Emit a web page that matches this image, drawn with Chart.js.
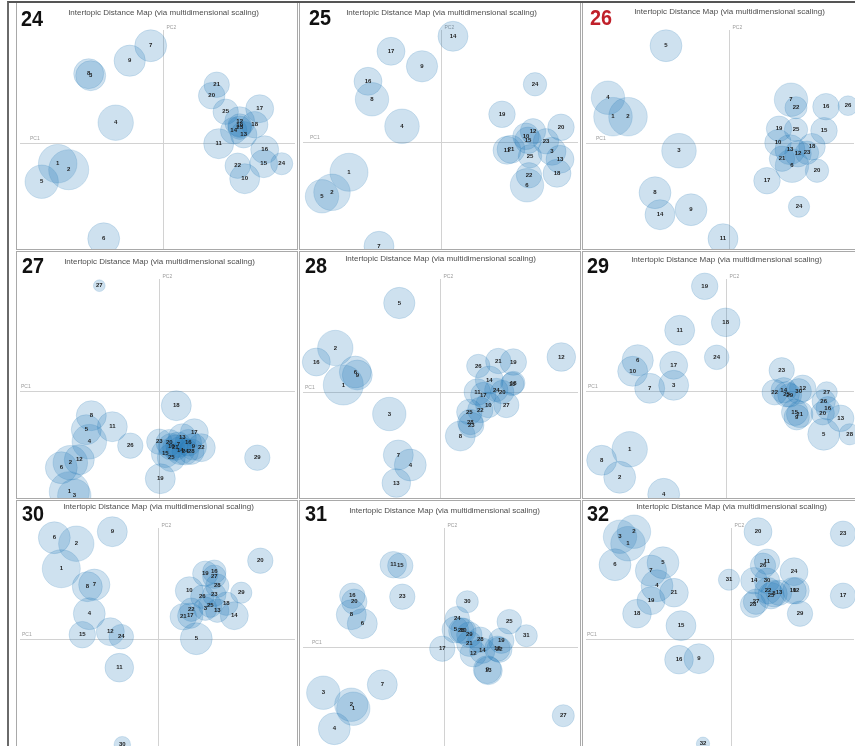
<!DOCTYPE html>
<html>
<head>
<meta charset="utf-8">
<title>Intertopic Distance Maps, K = 24 to 32</title>
<script src="https://cdn.jsdelivr.net/npm/chart.js@4/dist/chart.umd.min.js"></script>
<style>
  html, body { margin: 0; padding: 0; background: #fff; }
  body { width: 855px; height: 746px; position: relative; overflow: hidden; }
  #frame { position: absolute; left: 7px; top: 1px; width: 900px; height: 800px;
           border-left: 2px solid #6a6a6a; border-top: 2px solid #555; z-index: 2; pointer-events: none; }
  .panel { position: absolute; border: 1px solid #a9a9a9; background: #fff; }
  .panel canvas { display: block; }
</style>
</head>
<body>
<div id="frame"></div>
<div id="grid"></div>
<script>
// Number of topics K in each model run, in grid order (three per row)
const modelK = [24, 25, 26, 27, 28, 29, 30, 31, 32];
// Run highlighted in red
const selectedK = 26;

// Topic coordinates on the first two principal components (topic n at index n-1)
// and each topic's share of tokens in percent.
const pc1_24 = [-0.105,-0.094,-0.072,-0.047,-0.121,-0.059,-0.012,-0.074,-0.033,0.082,0.056,0.077,0.081,0.071,0.101,0.102,0.097,0.092,0.077,0.049,0.054,0.075,0.077,0.119,0.063];
const pc2_24 = [-0.021,-0.027,0.067,0.020,-0.039,-0.096,0.097,0.069,0.082,-0.036,-0.001,0.021,0.008,0.012,-0.021,-0.007,0.034,0.018,0.017,0.047,0.058,-0.023,0.015,-0.021,0.031];
const share_24 = [7.6,8.2,4.6,6.4,5.7,5.2,5.2,4.6,5.0,4.6,4.6,4.6,3.6,3.6,4.0,4.0,4.0,3.6,2.9,3.6,3.3,3.3,2.8,2.5,3.3];

const pc1_25 = [-0.092,-0.109,0.111,-0.039,-0.119,0.086,-0.062,-0.069,-0.019,0.085,0.066,0.092,0.119,0.012,0.087,-0.073,-0.050,0.116,0.061,0.120,0.070,0.088,0.105,0.094,0.089];
const pc2_25 = [-0.030,-0.050,-0.009,0.016,-0.054,-0.043,-0.104,0.043,0.076,0.006,-0.008,0.011,-0.017,0.106,0.002,0.061,0.091,-0.031,0.028,0.015,-0.007,-0.033,0.001,0.058,-0.014];
const share_25 = [7.4,6.8,4.0,6.1,5.7,5.7,4.6,5.7,5.0,3.6,4.0,3.3,4.0,4.6,3.6,4.0,4.0,4.0,3.6,3.6,4.0,3.3,3.3,2.8,2.8];

const pc1_26 = [-0.116,-0.101,-0.050,-0.121,-0.063,0.063,0.062,-0.074,-0.038,0.049,-0.006,0.069,0.061,-0.069,0.095,0.097,0.038,0.083,0.050,0.088,0.053,0.067,0.078,0.070,0.067,0.119];
const pc2_26 = [0.026,0.026,-0.008,0.045,0.097,-0.023,0.043,-0.050,-0.067,0.000,-0.096,-0.011,-0.007,-0.072,0.012,0.036,-0.038,-0.004,0.014,-0.028,-0.016,0.035,-0.010,-0.064,0.013,0.037];
const share_26 = [7.6,7.6,6.1,5.7,5.2,5.7,5.7,5.2,5.2,3.6,4.6,3.6,4.6,4.6,3.6,3.6,3.6,3.6,3.3,2.8,3.3,2.5,2.8,2.3,2.8,2.0];

const pc1_27 = [-0.090,-0.089,-0.085,-0.070,-0.073,-0.098,0.019,-0.068,0.034,0.012,-0.047,-0.080,0.023,0.021,0.006,0.029,0.035,0.017,0.001,0.010,0.016,0.042,0.000,0.026,0.012,-0.029,-0.060,0.032,0.098];
const pc2_27 = [-0.101,-0.072,-0.105,-0.051,-0.039,-0.077,-0.054,-0.025,-0.056,-0.056,-0.036,-0.069,-0.047,-0.060,-0.063,-0.052,-0.042,-0.015,-0.088,-0.052,-0.057,-0.057,-0.051,-0.061,-0.067,-0.055,0.105,-0.061,-0.067];
const share_27 = [8.2,6.1,5.7,6.1,4.6,5.2,3.3,4.6,3.6,3.6,4.6,4.6,4.0,4.0,4.0,3.6,4.0,4.6,4.6,3.6,3.3,4.0,3.3,3.6,4.0,3.3,0.7,3.3,3.3];

const pc1_28 = [-0.097,-0.105,-0.051,-0.030,-0.041,-0.085,-0.042,0.020,-0.083,0.048,0.037,0.121,-0.044,0.049,0.072,-0.124,0.043,0.073,0.073,0.062,0.058,0.040,0.031,0.056,0.029,0.038,0.066,0.030];
const pc2_28 = [0.007,0.044,-0.022,-0.073,0.089,0.020,-0.063,-0.044,0.017,-0.013,0.000,0.035,-0.091,0.012,0.008,0.030,-0.003,0.009,0.030,0.000,0.031,-0.018,-0.033,0.002,-0.020,0.026,-0.013,-0.030];
const share_28 = [8.2,6.4,5.7,5.2,5.0,5.2,4.6,4.6,4.6,3.3,3.6,4.2,4.2,4.0,2.8,4.0,3.3,2.8,3.6,2.8,3.3,3.3,3.3,2.8,3.3,2.8,3.3,3.3];

const pc1_29 = [-0.096,-0.106,-0.052,-0.062,0.098,-0.088,-0.076,-0.124,0.071,-0.093,-0.046,0.077,0.115,0.058,0.069,0.102,-0.052,0.000,-0.021,0.097,0.074,0.049,0.056,-0.009,0.061,0.098,0.101,0.124,0.064,0.073];
const pc2_29 = [-0.058,-0.086,0.006,-0.103,-0.043,0.031,0.003,-0.069,-0.026,0.020,0.061,0.003,-0.027,0.001,-0.021,-0.017,0.026,0.069,0.105,-0.022,-0.023,-0.001,0.021,0.034,-0.003,-0.010,-0.001,-0.043,-0.004,0.000];
const share_29 = [6.4,5.2,4.6,5.2,5.2,5.0,4.6,4.6,3.3,4.6,4.6,3.6,3.6,3.3,3.6,2.8,4.0,4.2,3.6,2.8,3.6,3.3,3.3,3.1,3.3,2.8,2.3,2.3,2.9,3.3];

const pc1_30 = [-0.097,-0.082,0.047,-0.069,0.038,-0.104,-0.064,-0.071,-0.046,0.031,-0.039,-0.048,0.059,0.076,-0.076,0.056,0.032,0.068,0.047,0.102,0.025,0.033,0.056,-0.037,0.052,0.044,0.056,0.059,0.083,-0.036];
const pc2_30 = [0.070,0.095,0.030,0.025,0.000,0.101,0.054,0.052,0.107,0.048,-0.029,0.007,0.028,0.023,0.004,0.067,0.023,0.035,0.065,0.078,0.022,0.029,0.044,0.002,0.033,0.042,0.062,0.053,0.046,-0.106];
const share_30 = [7.4,6.4,2.8,5.2,5.2,5.2,5.0,4.6,4.6,4.0,4.2,4.0,2.8,4.0,3.6,2.8,3.3,2.8,3.3,3.3,3.6,2.8,2.8,3.1,2.8,2.8,2.8,2.8,2.3,1.4];

const pc1_31 = [-0.091,-0.093,-0.121,-0.110,0.011,-0.082,-0.062,-0.093,0.043,0.019,-0.051,0.029,0.044,0.038,-0.044,-0.092,-0.002,0.053,0.057,-0.090,0.025,0.055,-0.042,0.013,0.065,0.017,0.119,0.036,0.025,0.023,0.082];
const pc2_31 = [-0.062,-0.058,-0.046,-0.082,0.017,0.023,-0.038,0.032,-0.023,0.016,0.082,-0.007,-0.024,-0.004,0.081,0.051,-0.002,-0.002,0.006,0.045,0.003,-0.003,0.050,0.028,0.025,0.016,-0.069,0.007,0.012,0.045,0.011];
const share_31 = [5.7,5.7,5.7,5.2,3.6,4.6,4.6,4.6,4.0,3.3,3.6,3.6,4.0,3.3,3.3,3.3,3.3,3.3,3.3,3.3,3.3,3.3,3.3,3.1,3.1,3.3,2.5,3.3,3.3,2.5,2.5];

const pc1_32 = [-0.103,-0.097,-0.111,-0.074,-0.068,-0.116,-0.080,0.043,-0.032,0.062,0.036,0.065,0.048,0.023,-0.050,-0.052,0.112,-0.094,-0.080,0.027,-0.057,0.037,0.112,0.063,0.040,0.032,0.025,0.022,0.069,0.036,-0.002,-0.028];
const pc2_32 = [0.095,0.107,0.102,0.053,0.076,0.074,0.068,0.045,-0.020,0.048,0.077,0.048,0.046,0.058,0.013,-0.021,0.043,0.025,0.038,0.107,0.046,0.048,0.105,0.067,0.043,0.073,0.037,0.034,0.025,0.058,0.059,-0.105];
const share_32 = [6.1,5.7,5.7,5.2,5.2,5.2,5.0,3.6,4.6,3.6,3.3,3.6,3.3,3.6,4.6,4.2,3.3,4.2,4.0,4.0,4.2,3.6,3.3,4.0,3.6,3.3,3.3,3.3,3.3,3.3,2.3,0.9];

// Visible PC1 / PC2 window of each map, in modelK order
const pc1Limits = [[-0.1457,0.1343],[-0.141,0.139],[-0.146,0.127],[-0.1423,0.1377],[-0.1403,0.1397],[-0.1427,0.1303],[-0.1413,0.1387],[-0.1443,0.1357],[-0.148,0.125]];
const pc2Limits = [[-0.1063,0.1397],[-0.1067,0.1393],[-0.1063,0.1397],[-0.1073,0.1387],[-0.106,0.140],[-0.1067,0.1393],[-0.1093,0.1377],[-0.1013,0.1457],[-0.1093,0.1377]];

const mapTitle = 'Intertopic Distance Map (via multidimensional scaling)';

const topicData = {
  24: [pc1_24, pc2_24, share_24], 25: [pc1_25, pc2_25, share_25], 26: [pc1_26, pc2_26, share_26],
  27: [pc1_27, pc2_27, share_27], 28: [pc1_28, pc2_28, share_28], 29: [pc1_29, pc2_29, share_29],
  30: [pc1_30, pc2_30, share_30], 31: [pc1_31, pc2_31, share_31], 32: [pc1_32, pc2_32, share_32]
};

// Grid geometry (outer box of each panel, border included)
const COL_LEFT = [16, 299, 582], COL_W = [282, 282, 275];
const ROW_TOP = [2, 251, 500], ROW_H = [248, 248, 249];
// Text placement inside each panel
const NUM_POS = [[4,23],[9,22],[7,22],[5,21],[5,21],[4,21],[5,20],[5,20],[4,20]];
const TITLE_Y = [12,12,11,12,9,10,8,12,8];
const PC1_INSET = [13,10,13,4,5,5,5,12,4];

// Bubble radius from token share: area proportional to share
const radiusOf = share => 7 * Math.sqrt(share);

const panelDecor = {
  id: 'panelDecor',
  beforeDatasetsDraw(chart, args, o) {
    const { ctx, chartArea: a, scales: { x, y } } = chart;
    const x0 = Math.round(x.getPixelForValue(0)) + 0.5;
    const y0 = Math.round(y.getPixelForValue(0)) + 0.5;
    ctx.save();
    ctx.strokeStyle = '#d2d2d2';
    ctx.lineWidth = 1;
    ctx.beginPath();
    ctx.moveTo(x0, a.top + 27); ctx.lineTo(x0, a.bottom);
    ctx.moveTo(a.left + 3, y0); ctx.lineTo(a.right - 2, y0);
    ctx.stroke();
    ctx.fillStyle = '#9c9c9c';
    ctx.font = '5px "Liberation Sans", Arial, sans-serif';
    ctx.textAlign = 'left';
    ctx.textBaseline = 'alphabetic';
    ctx.fillText('PC2', x0 + 3, a.top + 26);
    ctx.fillText('PC1', a.left + o.pc1Inset, y0 - 4);
    ctx.fillStyle = '#4d4d4d';
    ctx.font = '8px "Liberation Sans", Arial, sans-serif';
    ctx.textAlign = 'center';
    ctx.fillText(mapTitle, x0, a.top + o.titleY);
    ctx.restore();
  },
  afterDatasetsDraw(chart, args, o) {
    const { ctx } = chart;
    const meta = chart.getDatasetMeta(0);
    ctx.save();
    ctx.fillStyle = '#1e1e1e';
    ctx.font = 'bold 6px "Liberation Sans", Arial, sans-serif';
    ctx.textAlign = 'center';
    ctx.textBaseline = 'middle';
    meta.data.forEach((el, i) => ctx.fillText(String(i + 1), el.x, el.y));
    // run number in the corner
    ctx.translate(o.numPos[0], o.numPos[1]);
    ctx.scale(0.9, 1);
    ctx.fillStyle = o.k === selectedK ? '#c0202a' : '#111';
    ctx.font = 'bold 22px "Liberation Sans", Arial, sans-serif';
    ctx.textAlign = 'left';
    ctx.textBaseline = 'alphabetic';
    ctx.fillText(String(o.k), 0, 0);
    ctx.restore();
  }
};

const grid = document.getElementById('grid');
modelK.forEach((k, i) => {
  const row = Math.floor(i / 3), col = i % 3;
  const panel = document.createElement('div');
  panel.className = 'panel';
  panel.style.left = COL_LEFT[col] + 'px';
  panel.style.top = ROW_TOP[row] + 'px';
  panel.style.width = (COL_W[col] - 2) + 'px';
  panel.style.height = (ROW_H[row] - 2) + 'px';
  const canvas = document.createElement('canvas');
  const w = COL_W[col] - 2, h = ROW_H[row] - 2;
  canvas.width = w; canvas.height = h;
  canvas.style.width = w + 'px'; canvas.style.height = h + 'px';
  panel.appendChild(canvas);
  grid.appendChild(panel);

  const [pc1, pc2, share] = topicData[k];
  const points = pc1.map((v, t) => ({ x: v, y: pc2[t], r: radiusOf(share[t]) }));

  new Chart(canvas, {
    type: 'bubble',
    data: {
      datasets: [{
        label: 'K = ' + k,
        data: points,
        backgroundColor: 'rgba(31,119,180,0.22)',
        borderColor: 'rgba(31,119,180,0.16)',
        borderWidth: 1
      }]
    },
    options: {
      responsive: false,
      animation: false,
      devicePixelRatio: 1,
      events: [],
      layout: { padding: 0, autoPadding: false },
      plugins: {
        legend: { display: false },
        tooltip: { enabled: false },
        title: { display: false },
        panelDecor: { k: k, numPos: NUM_POS[i], titleY: TITLE_Y[i], pc1Inset: PC1_INSET[i] }
      },
      scales: {
        x: { type: 'linear', display: false, bounds: 'data', min: pc1Limits[i][0], max: pc1Limits[i][1] },
        y: { type: 'linear', display: false, bounds: 'data', min: pc2Limits[i][0], max: pc2Limits[i][1] }
      }
    },
    plugins: [panelDecor]
  });
});
</script>
</body>
</html>
